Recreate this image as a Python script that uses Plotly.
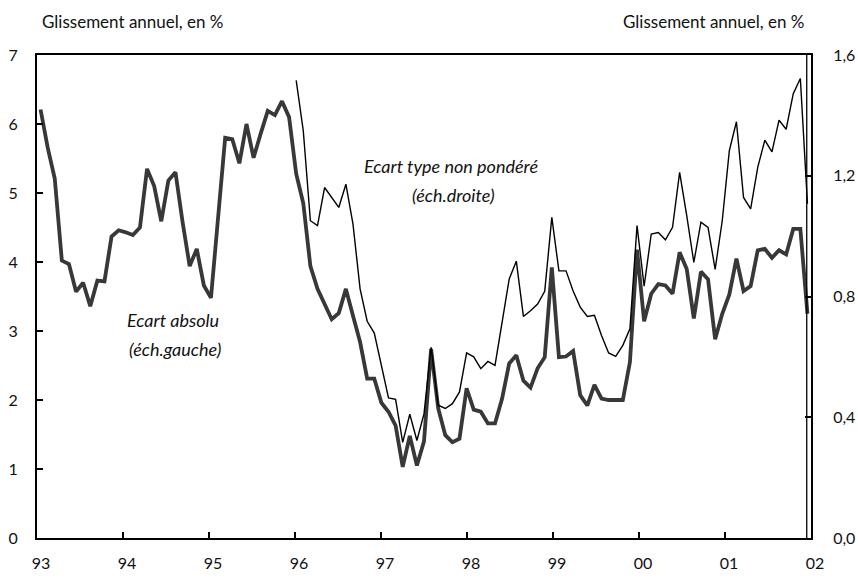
import plotly.graph_objects as go

year_labels = ["93", "94", "95", "96", "97", "98", "99", "00", "01", "02"]

# Ecart absolu (left axis), monthly Jan 1993 .. Jan 2002
ecart_absolu = [
    6.21, 5.66, 5.21, 4.02, 3.97, 3.57, 3.70, 3.36, 3.73, 3.72, 4.37, 4.46,
    4.43, 4.39, 4.50, 5.35, 5.10, 4.59, 5.18, 5.30, 4.58, 3.94, 4.19, 3.66,
    3.48, 4.64, 5.80, 5.78, 5.43, 6.00, 5.51, 5.86, 6.19, 6.13, 6.33, 6.10,
    5.28, 4.85, 3.94, 3.61, 3.40, 3.17, 3.26, 3.61, 3.22, 2.84, 2.31, 2.31,
    1.96, 1.83, 1.63, 1.03, 1.48, 1.05, 1.40, 2.74, 1.88, 1.49, 1.39, 1.44,
    2.17, 1.86, 1.83, 1.66, 1.66, 2.02, 2.53, 2.65, 2.28, 2.18, 2.46, 2.62,
    3.92, 2.62, 2.63, 2.71, 2.07, 1.92, 2.22, 2.02, 2.00, 2.00, 2.00, 2.55,
    4.18, 3.14, 3.54, 3.68, 3.66, 3.54, 4.14, 3.90, 3.18, 3.86, 3.75, 2.88,
    3.25, 3.53, 4.05, 3.58, 3.65, 4.17, 4.19, 4.06, 4.17, 4.11, 4.48, 4.48,
    3.25,
]

# Ecart type non pondere (right axis), starting Jan 1996
ecart_type_start = 36
ecart_type = [
    1.516, 1.349, 1.051, 1.035, 1.161, 1.128, 1.095, 1.172, 1.040, 0.825, 0.718, 0.679,
    0.570, 0.464, 0.459, 0.317, 0.410, 0.323, 0.411, 0.632, 0.440, 0.429, 0.445, 0.484,
    0.613, 0.600, 0.561, 0.585, 0.572, 0.710, 0.858, 0.917, 0.734, 0.753, 0.775, 0.817,
    1.062, 0.885, 0.885, 0.818, 0.765, 0.734, 0.738, 0.671, 0.613, 0.602, 0.638, 0.693,
    1.035, 0.834, 1.007, 1.012, 0.988, 1.029, 1.211, 1.068, 0.913, 1.046, 1.029, 0.890,
    1.051, 1.283, 1.379, 1.128, 1.090, 1.228, 1.318, 1.279, 1.384, 1.354, 1.472, 1.522,
    1.107,
]

n_cat = len(ecart_absolu)
x_abs = [i + 0.5 for i in range(n_cat)]
x_type = [ecart_type_start + i + 0.5 for i in range(len(ecart_type))]
tickvals = [k * n_cat / (len(year_labels) - 1) for k in range(len(year_labels))]

FONT = "Lato, 'DejaVu Sans', sans-serif"

fig = go.Figure()
fig.add_trace(go.Scatter(
    x=x_type, y=ecart_type, mode="lines", yaxis="y2",
    line=dict(color="#000000", width=1.4), showlegend=False,
))
fig.add_trace(go.Scatter(
    x=x_abs, y=ecart_absolu, mode="lines",
    line=dict(color="#383838", width=3.8), showlegend=False,
))

fig.update_layout(
    width=858, height=581,
    margin=dict(l=37, r=47, t=55, b=43),
    paper_bgcolor="white", plot_bgcolor="white",
    separators=", ",
    font=dict(family=FONT, size=16, color="#111111"),
    xaxis=dict(
        range=[0, n_cat], tickvals=tickvals, ticktext=year_labels, automargin=False,
        showgrid=False, zeroline=False, showline=True, linecolor="black",
        linewidth=2, mirror=True, ticks="inside", ticklen=6, tickwidth=1.5,
        tickcolor="black", ticklabelstandoff=10, ticklabelshift=4,
        tickfont=dict(size=16),
    ),
    yaxis=dict(
        range=[0, 7], dtick=1, automargin=False, showgrid=False, zeroline=False,
        showline=True, linecolor="black", linewidth=2, ticks="inside", ticklen=6,
        tickwidth=1.5, tickcolor="black", ticklabelstandoff=14, tickfont=dict(size=16),
    ),
    yaxis2=dict(
        range=[0, 1.6], dtick=0.4, tickformat=".1f", overlaying="y", side="right",
        automargin=False, showgrid=False, zeroline=False, showline=True,
        linecolor="black", linewidth=2, ticks="inside", ticklen=6, tickwidth=1.5,
        tickcolor="black", ticklabelstandoff=17, tickfont=dict(size=16),
    ),
)

fig.add_shape(type="line", xref="paper", yref="paper", x0=0.9945, x1=0.9945,
              y0=0, y1=1, line=dict(color="black", width=1.3))

ann = dict(showarrow=False, font=dict(family=FONT, size=17, color="#111111"))
fig.add_annotation(text="Glissement annuel, en %", xref="paper", yref="paper",
                   x=0.004, y=1.0, yshift=34, xanchor="left", yanchor="middle", **ann)
fig.add_annotation(text="Glissement annuel, en %", xref="paper", yref="paper",
                   x=0.994, y=1.0, yshift=34, xanchor="right", yanchor="middle", **ann)

it = dict(showarrow=False, xref="paper", yref="paper", xanchor="center", yanchor="middle",
          font=dict(family=FONT, size=18, color="#111111", style="italic"))
fig.add_annotation(text="Ecart type non pondéré", x=(451 - 37) / 774, y=(538 - 166) / 483, **it)
fig.add_annotation(text="(éch.droite)", x=(453 - 37) / 774, y=(538 - 195) / 483, **it)
fig.add_annotation(text="Ecart absolu", x=(173 - 37) / 774, y=(538 - 320) / 483, **it)
fig.add_annotation(text="(éch.gauche)", x=(175 - 37) / 774, y=(538 - 349) / 483, **it)

fig.write_html(
    "out.html",
    config={"displayModeBar": False},
    post_script="document.body.style.margin='0';document.body.style.overflow='hidden';",
)
